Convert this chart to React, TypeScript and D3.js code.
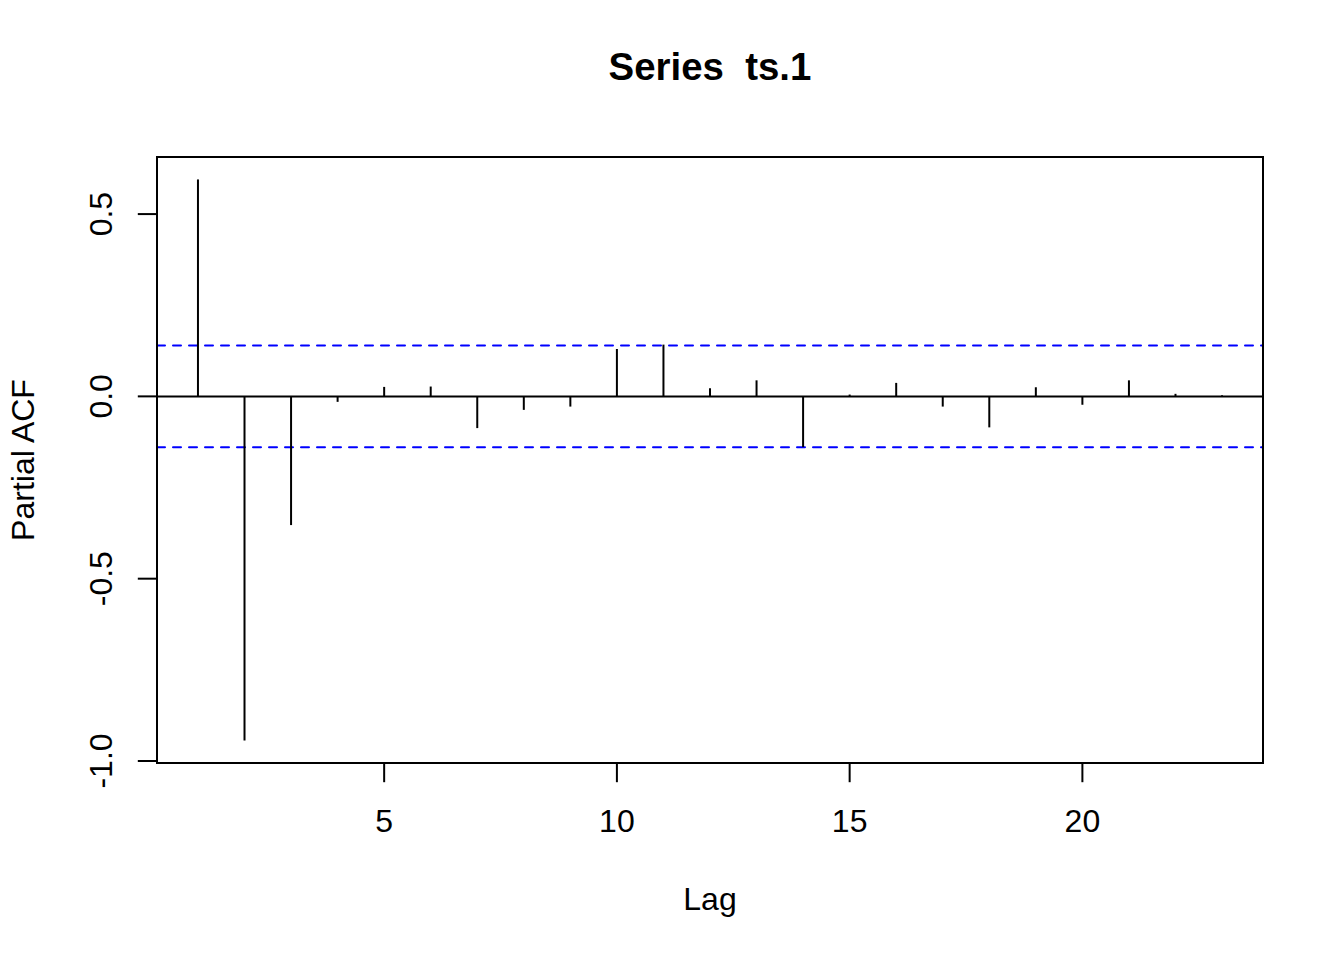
import React from "react";
import * as d3 from "d3";

const lags: number[] = [1, 2, 3, 4, 5, 6, 7, 8, 9, 10, 11, 12, 13, 14, 15, 16, 17, 18, 19, 20, 21, 22, 23];
const pacf: number[] = [
  0.595, -0.944, -0.353, -0.015, 0.026, 0.027, -0.087, -0.037, -0.028, 0.13,
  0.142, 0.022, 0.044, -0.139, 0.005, 0.037, -0.028, -0.085, 0.025, -0.023,
  0.044, 0.007, 0.003,
];
const clim = 0.1395;
const xTicks: number[] = [5, 10, 15, 20];
const yTicks: number[] = [-1.0, -0.5, 0.0, 0.5];
const title = "Series  ts.1";
const xLabel = "Lag";
const yLabel = "Partial ACF";

const W = 1344;
const H = 960;
const left = 157;
const right = 1263;
const top = 157;
const bottom = 763;

function extend(lo: number, hi: number): [number, number] {
  const d = (hi - lo) * 0.04;
  return [lo - d, hi + d];
}

export default function App() {
  const xExt = extend(d3.min(lags)!, d3.max(lags)!);
  const yLo = Math.min(d3.min(pacf)!, -clim);
  const yHi = Math.max(d3.max(pacf)!, clim);
  const yExt = extend(yLo, yHi);
  const x = d3.scaleLinear().domain(xExt).range([left, right]);
  const y = d3.scaleLinear().domain(yExt).range([bottom, top]);
  const font = "'Liberation Sans', Arial, Helvetica, sans-serif";
  const lw = 2;

  return (
    <svg
      width={W}
      height={H}
      style={{ position: "absolute", left: 0, top: 0, background: "#fff" }}
      fontFamily={font}
    >
      <rect x={0} y={0} width={W} height={H} fill="#fff" />
      <defs>
        <clipPath id="plotclip">
          <rect x={left} y={top} width={right - left} height={bottom - top} />
        </clipPath>
      </defs>
      <g clipPath="url(#plotclip)">
        <line x1={left} x2={right} y1={y(0)} y2={y(0)} stroke="#000" strokeWidth={lw} />
        {[clim, -clim].map((c, i) => (
          <line
            key={i}
            x1={left}
            x2={right}
            y1={y(c)}
            y2={y(c)}
            stroke="#0000FF"
            strokeWidth={lw}
            strokeDasharray="8,8"
            strokeLinecap="round"
          />
        ))}
        {lags.map((l, i) => (
          <line
            key={l}
            x1={x(l)}
            x2={x(l)}
            y1={y(0)}
            y2={y(pacf[i])}
            stroke="#000"
            strokeWidth={lw}
          />
        ))}
      </g>
      <rect
        x={left}
        y={top}
        width={right - left}
        height={bottom - top}
        fill="none"
        stroke="#000"
        strokeWidth={lw}
      />
      {xTicks.map((t) => (
        <g key={t}>
          <line x1={x(t)} x2={x(t)} y1={bottom} y2={bottom + 19.2} stroke="#000" strokeWidth={lw} />
          <text x={x(t)} y={832} fontSize={32} textAnchor="middle" fill="#000">
            {String(t)}
          </text>
        </g>
      ))}
      {yTicks.map((t) => (
        <g key={t}>
          <line x1={left - 19.2} x2={left} y1={y(t)} y2={y(t)} stroke="#000" strokeWidth={lw} />
          <text
            transform={`translate(112,${y(t)}) rotate(-90)`}
            fontSize={32}
            textAnchor="middle"
            fill="#000"
          >
            {t.toFixed(1)}
          </text>
        </g>
      ))}
      <text
        x={(left + right) / 2}
        y={80}
        fontSize={38.4}
        fontWeight="bold"
        textAnchor="middle"
        fill="#000"
        style={{ whiteSpace: "pre" }}
        xmlSpace="preserve"
      >
        {title}
      </text>
      <text x={(left + right) / 2} y={910} fontSize={32} textAnchor="middle" fill="#000">
        {xLabel}
      </text>
      <text
        transform={`translate(34,${(top + bottom) / 2}) rotate(-90)`}
        fontSize={32}
        textAnchor="middle"
        fill="#000"
      >
        {yLabel}
      </text>
    </svg>
  );
}
